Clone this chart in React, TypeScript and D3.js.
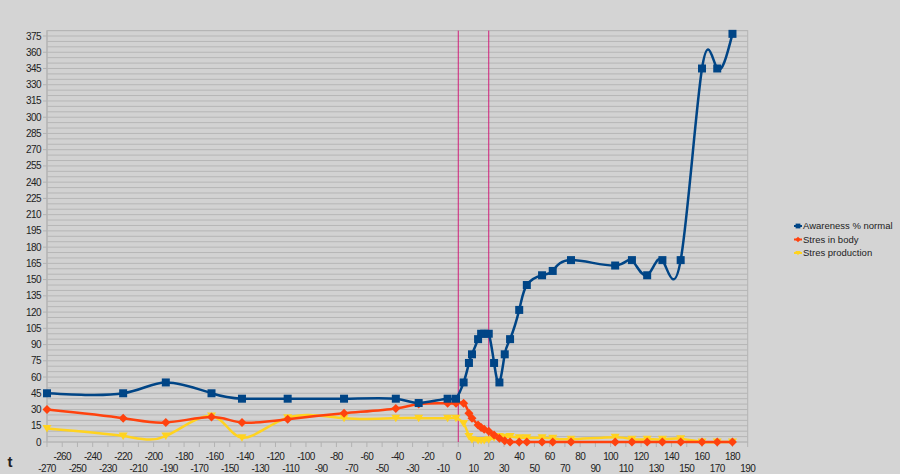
import React from 'react';
import * as d3 from 'd3';

// time axis (shared x column)
const tValues = [-270, -220, -192, -162, -142, -112, -75, -41, -26, -7, -1.5, 3.5, 7, 9, 13, 15, 17, 20, 23.5, 27, 30.5, 34, 40, 45, 55, 62, 74, 103, 114, 124, 134, 146, 160, 170, 180];

const awareness = [45, 45, 55, 45, 40, 40, 40, 40, 36, 40, 40, 55, 73, 81, 95, 100, 100, 100, 73, 55, 81, 95, 122, 145, 154, 158, 168, 163, 168, 154, 168, 168, 345, 345, 377];
const stresBody = [30, 22, 18, 23, 18, 21, 26.5, 31, 35, 35.7, 35.7, 35.7, 26.5, 22, 15.7, 13.5, 11.7, 10, 6.5, 3.5, 1.2, 0, 0, 0, 0, 0, 0, 0, 0, 0, 0, 0, 0, 0, 0];
const stresProduction = [12.5, 5.5, 5.5, 24, 4, 22.5, 22, 22, 22, 22, 22, 17, 5, 2, 1.5, 1.5, 1.5, 2, 4, 5, 4.5, 5, 4, 4, 4, 3.5, 2.5, 4.5, 2.5, 2.5, 2.5, 3, 0, 0, 0];

const seriesNames = ['Awareness % normal', 'Stres in body', 'Stres production'];
const seriesColors = ['#004586', '#ff420e', '#ffd320'];

const markerLines = [0, 20];

const yTicks = d3.range(0, 376, 15);
const yGrid = d3.range(0, 381, 5);
const xTicks = d3.range(-270, 191, 10);

const W = 900;
const H = 474;

const x = d3.scaleLinear().domain([-270, 190]).range([47, 747.7]);
const y = d3.scaleLinear().domain([0, 380]).range([442, 30.6]);

const line = d3.line<number[]>()
  .x(d => x(d[0]))
  .y(d => y(d[1]))
  .curve(d3.curveNatural);

const marker = (kind: number, cx: number, cy: number, color: string, key: string, s = 1) => {
  if (kind === 0) {
    const h = 4 * s;
    return <rect key={key} x={cx - h} y={cy - h} width={2 * h} height={2 * h} fill={color} />;
  }
  if (kind === 1) {
    const h = 4.5 * s;
    return <path key={key} d={`M${cx},${cy - h}L${cx + h},${cy}L${cx},${cy + h}L${cx - h},${cy}Z`} fill={color} />;
  }
  const w = 4.5 * s;
  return <path key={key} d={`M${cx - w},${cy - 3.5 * s}L${cx + w},${cy - 3.5 * s}L${cx},${cy + 4 * s}Z`} fill={color} />;
};

export default function App() {
  const all = [awareness, stresBody, stresProduction];
  const pts = all.map(vals => tValues.map((t, i) => [t, vals[i]]));
  const font = '"Liberation Sans", Arial, sans-serif';

  return (
    <svg width={W} height={H} style={{ position: 'absolute', left: 0, top: 0, background: '#d4d4d4' }} fontFamily={font}>
      <rect x={0} y={0} width={W} height={H} fill="#d4d4d4" />
      <rect x={x(-270)} y={y(380)} width={x(190) - x(-270)} height={y(0) - y(380)} fill="#d2d2d2" stroke="#b4b4b4" />
      {yGrid.map(v => (
        <line key={'g' + v} x1={x(-270)} x2={x(190)} y1={y(v)} y2={y(v)} stroke="#b6b6b6" strokeWidth={1} />
      ))}
      {/* y axis */}
      <line x1={x(-270)} x2={x(-270)} y1={y(380)} y2={y(0)} stroke="#b3b3b3" />
      {yTicks.map(v => (
        <g key={'yt' + v}>
          <line x1={x(-270) - 4} x2={x(-270)} y1={y(v)} y2={y(v)} stroke="#b3b3b3" />
          <text x={x(-270) - 6} y={y(v)} dy="0.35em" textAnchor="end" fontSize={10} letterSpacing={-0.6} fill="#222">{v}</text>
        </g>
      ))}
      {/* x axis */}
      {xTicks.map((v, i) => (
        <g key={'xt' + v}>
          <line x1={x(v)} x2={x(v)} y1={y(0)} y2={y(0) + 5} stroke="#b3b3b3" />
          <text x={x(v)} y={i % 2 === 0 ? 468 : 456} dy="0.35em" textAnchor="middle" fontSize={10} letterSpacing={-0.6} fill="#222">{v}</text>
        </g>
      ))}
      <text x={10} y={462} dy="0.35em" textAnchor="middle" fontSize={15} fontWeight="bold" fill="#222">t</text>
      {markerLines.map(v => (
        <line key={'m' + v} x1={x(v)} x2={x(v)} y1={y(380)} y2={y(0)} stroke="#d0207a" strokeWidth={1} />
      ))}
      {/* lines */}
      <path d={line(pts[2]) || ''} fill="none" stroke={seriesColors[2]} strokeWidth={2.5} />
      <path d={line(pts[1]) || ''} fill="none" stroke={seriesColors[1]} strokeWidth={2.5} />
      {pts[2].map((p, i) => marker(2, x(p[0]), y(p[1]), seriesColors[2], 'y' + i))}
      {pts[1].map((p, i) => marker(1, x(p[0]), y(p[1]), seriesColors[1], 'o' + i))}
      <path d={line(pts[0]) || ''} fill="none" stroke={seriesColors[0]} strokeWidth={2.5} />
      {pts[0].map((p, i) => marker(0, x(p[0]), y(p[1]), seriesColors[0], 'b' + i))}
      {/* legend */}
      {seriesNames.map((name, i) => {
        const ly = 226 + i * 13.5;
        return (
          <g key={'l' + i}>
            <line x1={794} x2={802} y1={ly} y2={ly} stroke={seriesColors[i]} strokeWidth={2} />
            {marker(i, 798, ly, seriesColors[i], 'lm' + i, 0.6)}
            <text x={803} y={ly} dy="0.35em" fontSize={9.5} fill="#222">{name}</text>
          </g>
        );
      })}
    </svg>
  );
}
